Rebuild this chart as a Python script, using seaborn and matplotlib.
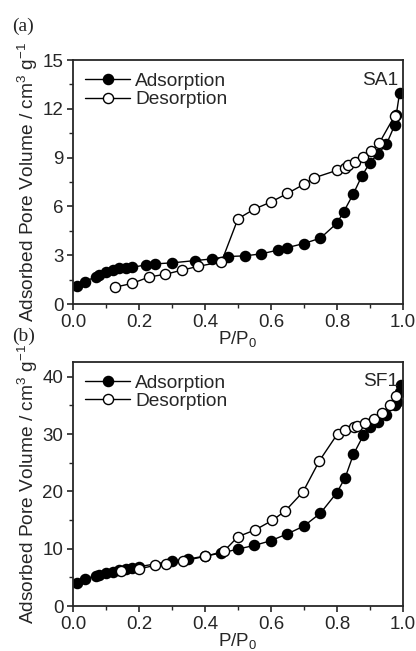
import numpy as np
import pandas as pd
import matplotlib
matplotlib.use("Agg")
import matplotlib.pyplot as plt
from matplotlib.ticker import MultipleLocator
import seaborn as sns

# SA1 data
sa_ads_x = [0.012, 0.035, 0.07, 0.08, 0.1, 0.12, 0.14, 0.16, 0.18, 0.22, 0.25, 0.3, 0.37, 0.42, 0.47,
            0.52, 0.57, 0.62, 0.65, 0.7, 0.75, 0.8, 0.82, 0.85, 0.875, 0.9, 0.925, 0.95, 0.975, 0.98, 0.99]
sa_ads_y = [1.09, 1.38, 1.68, 1.79, 1.95, 2.1, 2.2, 2.22, 2.26, 2.4, 2.47, 2.53, 2.67, 2.77, 2.92,
            2.96, 3.08, 3.31, 3.47, 3.72, 4.05, 4.97, 5.65, 6.78, 7.85, 8.69, 9.25, 9.82, 10.99, 11.65, 12.98]
sa_des_x = [0.126, 0.18, 0.23, 0.28, 0.33, 0.38, 0.45, 0.5, 0.55, 0.6, 0.65, 0.7, 0.73, 0.8, 0.825,
            0.833, 0.855, 0.88, 0.904, 0.929, 0.975]
sa_des_y = [1.03, 1.27, 1.66, 1.83, 2.08, 2.32, 2.59, 5.24, 5.84, 6.27, 6.8, 7.36, 7.75, 8.22, 8.38,
            8.53, 8.75, 9.06, 9.41, 9.92, 11.57]

# SF1 data
sf_ads_x = [0.012, 0.035, 0.07, 0.08, 0.1, 0.12, 0.14, 0.16, 0.18, 0.2, 0.3, 0.35, 0.4, 0.45, 0.5,
            0.55, 0.6, 0.65, 0.7, 0.75, 0.8, 0.825, 0.85, 0.88, 0.9, 0.925, 0.95, 0.975, 0.983, 0.99, 0.995]
sf_ads_y = [4.07, 4.77, 5.23, 5.4, 5.7, 6.0, 6.28, 6.5, 6.69, 6.86, 7.85, 8.2, 8.72, 9.24, 9.94,
            10.58, 11.4, 12.6, 13.95, 16.2, 19.8, 22.4, 26.45, 29.77, 31.28, 32.15, 33.26, 35.06, 35.6, 37.4, 38.5]
sf_des_x = [0.144, 0.2, 0.25, 0.283, 0.333, 0.4, 0.457, 0.5, 0.553, 0.604, 0.643, 0.697, 0.747, 0.802,
            0.825, 0.852, 0.86, 0.885, 0.911, 0.936, 0.962, 0.978]
sf_des_y = [6.05, 6.5, 7.09, 7.33, 7.85, 8.66, 9.53, 12.1, 13.3, 14.94, 16.57, 19.9, 25.35, 30.06,
            30.8, 31.2, 31.4, 31.98, 32.67, 33.6, 35.1, 36.7]

sns.set_style("ticks")
plt.rcParams['font.family'] = ['Liberation Sans', 'DejaVu Sans']
plt.rcParams['mathtext.fontset'] = 'custom'
plt.rcParams['mathtext.rm'] = 'Liberation Sans'
plt.rcParams['mathtext.it'] = 'Liberation Sans'

fig = plt.figure(figsize=(4.16, 6.51), dpi=100)
ax1 = fig.add_axes([0.1755, 0.5330, 0.793, 0.3748])
ax2 = fig.add_axes([0.1755, 0.0691, 0.793, 0.375])

def draw(ax, ax_x, ax_y, de_x, de_y, ymax, major, minor, tag):
    df_a = pd.DataFrame({"x": ax_x, "y": ax_y})
    df_d = pd.DataFrame({"x": de_x, "y": de_y})
    sns.lineplot(data=df_a, x="x", y="y", ax=ax, sort=False, estimator=None, color="black",
                 lw=1.0, marker="o", markersize=7.3, markerfacecolor="black", markeredgecolor="black",
                 markeredgewidth=1.0, label="Adsorption")
    sns.lineplot(data=df_d, x="x", y="y", ax=ax, sort=False, estimator=None, color="black",
                 lw=1.0, marker="o", markersize=7.3, markerfacecolor="white", markeredgecolor="black",
                 markeredgewidth=1.0, label="Desorption")
    ax.set_xlim(0, 1.0)
    ax.set_ylim(0, ymax)
    ax.xaxis.set_major_locator(MultipleLocator(0.2))
    ax.xaxis.set_minor_locator(MultipleLocator(0.1))
    ax.yaxis.set_major_locator(MultipleLocator(major))
    ax.yaxis.set_minor_locator(MultipleLocator(minor))
    ax.xaxis.set_major_formatter(matplotlib.ticker.FormatStrFormatter('%.1f'))
    ax.tick_params(which='major', direction='out', length=4.5, width=1.2, labelsize=13.5, pad=2.5)
    ax.tick_params(which='minor', direction='out', length=3, width=1.0)
    for s in ax.spines.values():
        s.set_linewidth(1.3)
        s.set_visible(True)
    ax.set_xlabel("P/P$_0$", fontsize=13.5, labelpad=-1)
    ax.set_ylabel("Adsorbed Pore Volume / cm$^3$ g$^{-1}$", fontsize=13.8, labelpad=2)
    ax.legend(loc="upper left", frameon=False, fontsize=13.8, handlelength=2.3,
              handletextpad=0.3, borderaxespad=0.35, borderpad=0.3, labelspacing=0.05)
    ax.text(0.985, 0.918, tag, transform=ax.transAxes, ha="right", va="center", fontsize=13.8)

draw(ax1, sa_ads_x, sa_ads_y, sa_des_x, sa_des_y, 15, 3, 1.5, "SA1")
draw(ax2, sf_ads_x, sf_ads_y, sf_des_x, sf_des_y, 42.6, 10, 5, "SF1")

fig.text(0.03, 0.960, "(a)", family="Liberation Serif", fontsize=14, va="center", ha="left")
fig.text(0.03, 0.484, "(b)", family="Liberation Serif", fontsize=14, va="center", ha="left")

fig.savefig("out.png", dpi=100)
